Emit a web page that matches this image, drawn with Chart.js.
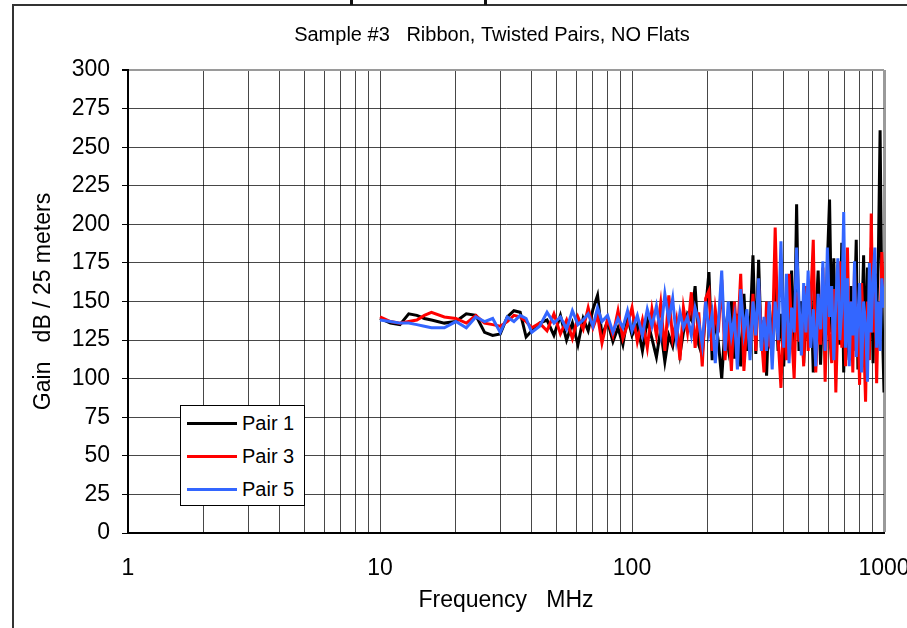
<!DOCTYPE html>
<html>
<head>
<meta charset="utf-8">
<script src="https://cdn.jsdelivr.net/npm/chart.js@4.4.1/dist/chart.umd.min.js"></script>
<style>
  body { margin: 0; background: #fff; }
  #wrap { position: relative; width: 907px; height: 628px; overflow: hidden; }
  #legend {
    position: absolute; left: 180px; top: 405px; width: 125px; height: 101px;
    box-sizing: border-box; border: 1px solid #000; background: #fff;
    font-family: "Liberation Sans", Arial, sans-serif; font-size: 20px; color: #000;
  }
  .row { display: flex; align-items: center; height: 33px; }
  .row:first-child { margin-top: 1px; }
  .swatch { width: 50px; height: 3px; margin-left: 6px; margin-right: 5px; }
</style>
</head>
<body>
<div id="wrap">
  <canvas id="grafico" width="907" height="628"></canvas>
  <div id="legend"></div>
</div>
<script>
// frecuencias (MHz) comunes a las tres series
const freqMHz = [10,11,12,13,14,15,16,18,20,22,
  24,26,28,30,32,34,36,38,40,43,
  46,49,52,55,58,61,64,67,70,73,
  76,80,84,88,92,96,100,105,110,115,
  120,125,130,135,140,145,150,155,160,166,
  172,178,184,190,196,202,208,214,220,227,
  234,241,248,255,262,270,278,286,294,302,
  310,318,326,334,342,350,360,370,380,390,
  400,410,420,430,440,450,460,470,480,490,
  500,512,524,536,548,560,572,584,596,608,
  620,632,644,656,668,680,692,704,716,728,
  740,752,764,776,788,800,815,830,845,860,
  875,890,905,920,935,950,965,980,1000];

const pair1 = [139,136,135,142,141,139,138,136,137,142,
  141,130,128,129,140,144,143,127,131,136,
  138,128,141,125,136,122,139,131,145,154,
  128,137,124,133,122,140,128,135,118,138,
  126,114,132,111,128,121,136,116,130,142,
  138,160,122,115,145,169,112,140,124,100,
  134,120,150,113,142,108,155,118,132,180,
  116,177,120,138,102,148,125,160,118,142,
  108,152,126,170,112,213,118,150,110,146,
  125,160,104,138,170,109,150,120,175,216,
  130,178,106,150,122,188,104,158,126,112,
  160,118,145,190,106,152,130,180,104,172,
  120,185,110,168,140,180,261,150,91];

const pair3 = [140,137,136,137,138,141,143,140,139,136,
  141,136,135,134,137,141,140,137,133,136,
  131,142,129,138,126,140,132,146,133,141,
  123,139,128,144,126,135,146,124,138,120,
  145,128,149,118,154,126,138,112,146,130,
  156,120,143,108,152,157,118,145,130,164,
  112,140,105,150,125,168,105,138,122,155,
  118,160,128,104,150,122,118,198,126,94,
  145,112,168,130,100,156,124,142,108,160,
  118,150,190,104,140,122,172,98,150,128,
  110,158,91,140,176,120,164,108,185,125,
  150,104,172,118,140,96,162,128,85,150,
  112,207,130,160,97,148,126,182,150];

const pair5 = [138,137,136,136,135,134,133,133,137,133,
  140,137,139,130,140,137,141,139,130,134,
  143,136,140,132,144,135,138,142,134,146,
  137,141,130,139,133,144,131,141,128,145,
  134,147,129,155,138,152,126,143,133,140,
  128,146,137,122,150,130,142,110,135,170,
  118,150,128,140,106,158,130,145,112,150,
  128,165,118,140,118,150,106,150,125,189,
  120,168,110,146,130,185,150,115,162,130,
  170,120,145,108,155,132,176,118,185,140,
  160,112,150,178,125,145,208,120,165,108,
  150,128,176,114,140,162,104,150,135,98,
  175,130,165,185,120,150,118,165,146];

const seriesNames = ['Pair 1', 'Pair 3', 'Pair 5'];
const xGridValues = [1,2,3,4,5,6,7,8,9,10,20,30,40,50,60,70,80,90,100,200,300,400,500,600,700,800,900,1000];
const xLabelValues = [1, 10, 100, 1000];
const subtitulo = 'Sample #3   Ribbon, Twisted Pairs, NO Flats';

const FONT = '"Liberation Sans", Arial, sans-serif';
const colores = ['#000000', '#ff0000', '#3366ff'];

const puntos = serie => freqMHz.map((f, i) => ({ x: f, y: serie[i] }));

// marco exterior y subtitulo
const marcoPlugin = {
  id: 'marco',
  beforeDraw(chart) {
    const c = chart.ctx;
    c.save();
    c.fillStyle = '#fff';
    c.fillRect(0, 0, chart.width, chart.height);
    c.strokeStyle = '#333';
    c.lineWidth = 2;
    c.beginPath();
    c.moveTo(13, 628);
    c.lineTo(13, 5);
    c.lineTo(907, 5);
    c.stroke();
    c.fillStyle = '#111';
    c.fillRect(350, 0, 3, 5);
    c.fillRect(484, 0, 3, 5);
    c.font = '20px ' + FONT;
    c.fillStyle = '#000';
    c.textAlign = 'center';
    c.textBaseline = 'middle';
    c.fillText(subtitulo, 492, 35);
    c.restore();
  }
};

const grafico = new Chart(document.getElementById('grafico').getContext('2d'), {
  type: 'line',
  data: {
    datasets: [pair1, pair3, pair5].map((s, i) => ({
      label: seriesNames[i],
      data: puntos(s),
      borderColor: colores[i],
      backgroundColor: colores[i],
      borderWidth: 3,
      pointRadius: 0,
      tension: 0,
      order: 2 - i
    }))
  },
  options: {
    responsive: false,
    animation: false,
    devicePixelRatio: 1,
    layout: { padding: { left: 14, top: 70, right: 23, bottom: 0 } },
    plugins: { legend: { display: false }, tooltip: { enabled: false } },
    scales: {
      x: {
        type: 'logarithmic',
        min: 1,
        max: 1000,
        afterBuildTicks: s => { s.ticks = xGridValues.map(v => ({ value: v })); },
        afterFit: s => { s.height = 95; s.paddingLeft = 0; s.paddingRight = 0; },
        ticks: {
          autoSkip: false,
          maxRotation: 0,
          padding: 22,
          color: '#000',
          font: { family: FONT, size: 23 },
          callback: v => xLabelValues.includes(v) ? String(v) : ''
        },
        grid: {
          drawTicks: false,
          color: ctx => ctx.tick && ctx.tick.value === 1000 ? '#9a9a9a' : 'rgba(0,0,0,0.72)',
          lineWidth: ctx => ctx.tick && ctx.tick.value === 1000 ? 3 : 1
        },
        border: { color: '#000', width: 2 },
        title: {
          display: true,
          text: 'Frequency   MHz',
          color: '#000',
          font: { family: FONT, size: 23 },
          padding: { top: 0, bottom: 14 }
        }
      },
      y: {
        min: 0,
        max: 300,
        afterFit: s => { s.width = 114; s.paddingTop = 0; s.paddingBottom = 0; },
        ticks: {
          stepSize: 25,
          padding: 12,
          color: '#000',
          font: { family: FONT, size: 23 }
        },
        grid: {
          tickLength: 6,
          tickColor: '#000',
          color: ctx => ctx.tick && ctx.tick.value === 300 ? '#9a9a9a' : 'rgba(0,0,0,0.72)',
          lineWidth: ctx => ctx.tick && ctx.tick.value === 300 ? 2 : 1
        },
        border: { color: '#000', width: 2 },
        title: {
          display: true,
          text: 'Gain   dB / 25 meters',
          color: '#000',
          font: { family: FONT, size: 23 },
          padding: { top: 16, bottom: 0 }
        }
      }
    }
  },
  plugins: [marcoPlugin]
});

// leyenda en HTML dentro del area del grafico
const leyenda = document.getElementById('legend');
grafico.data.datasets.forEach(ds => {
  const fila = document.createElement('div');
  fila.className = 'row';
  fila.innerHTML = `<span class="swatch" style="background:${ds.borderColor}"></span><span>${ds.label}</span>`;
  leyenda.appendChild(fila);
});
</script>
</body>
</html>
